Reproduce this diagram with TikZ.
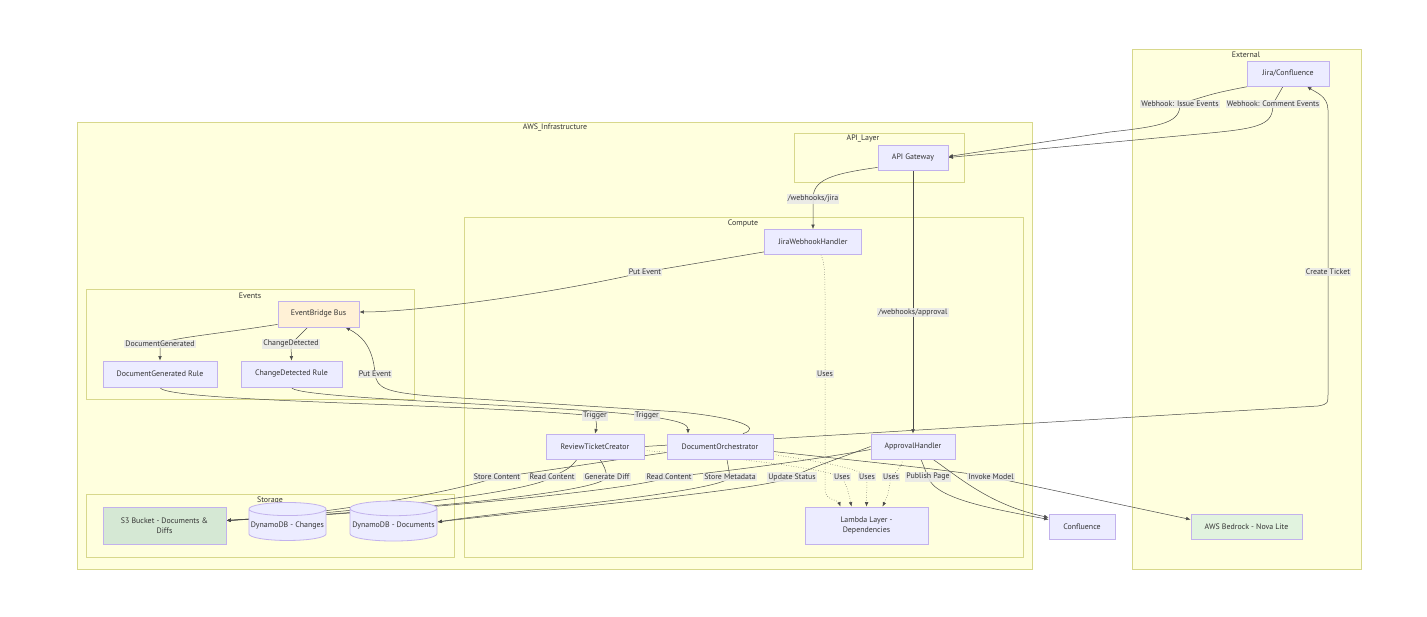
\documentclass[tikz,border=0pt]{standalone}
\usepackage{fontspec}
\setmainfont{PT Sans}
\usetikzlibrary{arrows.meta,calc,positioning,shapes.geometric}
\definecolor{ClusterFill}{HTML}{FFFFDE}
\definecolor{ClusterLine}{HTML}{D8D88C}
\definecolor{NodeFill}{HTML}{ECECFF}
\definecolor{NodeLine}{HTML}{C2B2EC}
\definecolor{BusFill}{HTML}{FFF1D6}
\definecolor{StoreFill}{HTML}{D5E8D4}
\definecolor{ModelFill}{HTML}{E1F3DF}
\definecolor{EdgeGray}{HTML}{4A4A4A}
\definecolor{LabelBg}{HTML}{E8E8E8}
\definecolor{TextGray}{HTML}{333333}
\pgfdeclarelayer{bg}
\pgfdeclarelayer{edges}
\pgfsetlayers{bg,edges,main}
\newcommand{\diagfont}{\fontsize{7.9}{9.8}\selectfont}
\tikzset{
  svc/.style={draw=NodeLine,fill=NodeFill,line width=0.8pt,minimum height=25pt,
    text=TextGray,font=\diagfont,inner sep=2pt},
  db/.style={svc,cylinder,shape border rotate=90,aspect=0.17},
  grp/.style={draw=ClusterLine,fill=ClusterFill,line width=0.8pt},
  grptitle/.style={text=TextGray,font=\diagfont,inner sep=1pt},
  flow/.style={draw=EdgeGray,line width=0.5pt,-{Latex[length=4.5pt,width=3.6pt]}},
  uses/.style={flow,dotted},
  tag/.style={fill=LabelBg,fill opacity=0.85,text opacity=1,text=TextGray,font=\diagfont,inner sep=1.2pt}
}
\begin{document}
\begin{tikzpicture}[x=1pt,y=-1pt]
  \useasboundingbox (0,0) rectangle (1427,617);

  % nodes
  \node[svc,minimum width=82pt] (jira) at (1288,73.5) {Jira/Confluence};
  \node[svc,minimum width=70pt] (apigw) at (913,157.5) {API Gateway};
  \node[svc,minimum width=97pt] (jwh) at (813,242) {JiraWebhookHandler};
  \node[svc,fill=BusFill,minimum width=81pt,minimum height=26pt] (eb) at (318.5,314) {EventBridge Bus};
  \node[svc,minimum width=114pt,minimum height=26pt] (dgr) at (160,374) {DocumentGenerated Rule};
  \node[svc,minimum width=101pt,minimum height=26pt] (cdr) at (291.5,374) {ChangeDetected Rule};
  \node[svc,minimum width=98pt] (rtc) at (595,446.5) {ReviewTicketCreator};
  \node[svc,minimum width=106pt] (docorch) at (720,446.5) {DocumentOrchestrator};
  \node[svc,minimum width=84pt] (approval) at (913,446.5) {ApprovalHandler};
  \node[svc,minimum width=123pt,minimum height=37pt,align=center] (layer) at (866.5,525.5) {Lambda Layer -\\Dependencies};
  \node[svc,fill=StoreFill,minimum width=123pt,minimum height=37pt,align=center] (s3) at (164.5,525.5) {S3 Bucket - Documents \&\\Diffs};
  \node[db,minimum width=77pt,minimum height=38pt] (dbchg) at (287.5,526) {\raisebox{-3pt}{DynamoDB - Changes}};
  \node[db,minimum width=87pt,minimum height=40pt] (dbdoc) at (393.5,526) {\raisebox{-3pt}{DynamoDB - Documents}};
  \node[svc,minimum width=66pt] (confl) at (1082,526.5) {Confluence};
  \node[svc,fill=ModelFill,minimum width=111pt] (bedrock) at (1246.5,526.5) {AWS Bedrock - Nova Lite};

  % groups
  \begin{pgfonlayer}{bg}
    \fill[white] (0,0) rectangle (1427,617);
    \draw[grp] (1132,49) rectangle (1361,569);
    \node[grptitle] (tExternal) at (1246,54.5) {External};
    \draw[grp] (77,122) rectangle (1032,569);
    \node[grptitle] (tAws) at (555,127.5) {AWS\_Infrastructure};
    \draw[grp] (794,133) rectangle (964,182);
    \node[grptitle] (tApi) at (863,138.5) {API\_Layer};
    \draw[grp] (464,217) rectangle (1023,557);
    \node[grptitle] (tCompute) at (743,223.5) {Compute};
    \draw[grp] (86,289) rectangle (414,399);
    \node[grptitle] (tEvents) at (250,295.5) {Events};
    \draw[grp] (86,494) rectangle (454,557);
    \node[grptitle] (tStorage) at (270,500.5) {Storage};
  \end{pgfonlayer}

  % edges
  \begin{pgfonlayer}{edges}
    \draw[flow] ([xshift=2pt]jira.south west) .. controls (1215,93) .. (1180,104) node[tag] (lIssue) {Webhook: Issue Events}
      .. controls (1180,122) and (1165,126) .. (1110,132) -- ([yshift=1pt]apigw.east);
    \draw[flow] ([xshift=-5pt]jira.south) .. controls (1278,95) .. (1273,104) node[tag] (lComment) {Webhook: Comment Events}
      .. controls (1273,124) and (1262,128) .. (1210,133) -- ([yshift=0pt]apigw.east);
    \draw[flow] ([yshift=3pt]apigw.south west) .. controls (830,174) and (813,180) .. (813,199) node[tag] (lJira) {/webhooks/jira} -- (jwh.north);
    \draw[flow] (apigw.south) -- node[tag,pos=0.54] (lAppr) {/webhooks/approval} (approval.north);
    \draw[flow] ([yshift=3pt]jwh.south west) .. controls (705,262) .. (645,272) node[tag] (lPut1) {Put Event}
      .. controls (560,292) and (420,312) .. ([yshift=2pt]eb.east);
    \draw[uses] ([xshift=8pt]jwh.south) .. controls (825,262) and (825,280) .. (825,300) -- (825,374) node[tag] (lUse1) {Uses}
      -- (825,490) .. controls (825,500) and (838,500) .. ([xshift=-26pt]layer.north);
    \draw[flow] ([yshift=3pt]eb.south west) .. controls (210,335) and (170,338) .. (160,344) node[tag] (lDocGen) {DocumentGenerated} -- (dgr.north);
    \draw[flow] ([xshift=-11pt]eb.south) .. controls (300,335) .. (291,344) node[tag] (lChg) {ChangeDetected} -- (cdr.north);
    \draw[flow] (dgr.south) .. controls (162,402) and (480,404) .. (595,416) node[tag] (lTrig1) {Trigger}
      .. controls (597,426) .. (rtc.north);
    \draw[flow] (cdr.south) .. controls (293,399) and (560,405) .. (647,416) node[tag] (lTrig2) {Trigger}
      .. controls (680,421) and (688,424) .. ([xshift=-32pt]docorch.north);
    \draw[flow] ([xshift=23pt]docorch.north) .. controls (762,428) and (740,418) .. (680,412) -- (430,396)
      .. controls (385,392) and (377,388) .. (375,374) node[tag] (lPut2) {Put Event}
      .. controls (373,345) and (360,335) .. ([xshift=27pt]eb.south);
    \draw[flow] (rtc.east) -- (1318,406) .. controls (1328,404) .. (1328,392) -- (1328,272) node[tag] (lTicket) {Create Ticket}
      -- (1328,110) .. controls (1328,96) and (1315,92) .. ([xshift=19pt]jira.south);
    \draw[flow] ([yshift=-6pt]docorch.west) .. controls (600,462) and (540,472) .. (497,477) node[tag] (lStore) {Store Content}
      .. controls (455,492) and (330,514) .. ([yshift=5pt]s3.east);
    \draw[flow] ([xshift=-18pt]rtc.south) .. controls (570,468) .. (552,477) node[tag] (lRead1) {Read Content}
      .. controls (530,494) and (330,514) .. ([yshift=5pt]s3.east);
    \draw[flow] ([xshift=5pt]rtc.south) .. controls (605,468) .. (607,477) node[tag] (lDiff) {Generate Diff}
      .. controls (600,496) and (330,515) .. ([yshift=5pt]s3.east);
    \draw[flow] ([yshift=-3pt]approval.west) .. controls (800,462) and (720,472) .. (669,477) node[tag] (lRead2) {Read Content}
      .. controls (620,494) and (330,516) .. ([yshift=5pt]s3.east);
    \draw[flow] ([xshift=7pt]docorch.south) .. controls (729,468) .. (730,477) node[tag] (lMeta) {Store Metadata}
      .. controls (725,492) and (500,512) .. ([yshift=4pt]dbdoc.east);
    \draw[flow] ([yshift=0pt]approval.west) .. controls (840,458) and (810,468) .. (792,477) node[tag] (lStatus) {Update Status}
      .. controls (770,490) and (520,512) .. ([yshift=4pt]dbdoc.east);
    \draw[uses] ([yshift=-4pt]rtc.east) .. controls (740,458) and (820,468) .. (842,477) node[tag] (lUse2) {Uses}
      .. controls (848,490) .. ([xshift=-15pt]layer.north);
    \draw[uses] ([yshift=-8pt]docorch.east) .. controls (820,462) and (860,468) .. (867,477) node[tag] (lUse3) {Uses} -- (layer.north);
    \draw[uses] ([xshift=-10pt]approval.south) .. controls (900,468) .. (891,477) node[tag] (lUse4) {Uses}
      .. controls (888,495) .. ([xshift=16pt]layer.north);
    \draw[flow] ([xshift=8pt]approval.south) .. controls (925,468) .. (928,477) node[tag] (lPublish) {Publish Page}
      .. controls (935,500) and (1000,510) .. ([yshift=7pt]confl.west);
    \draw[flow] ([xshift=20pt]approval.south) .. controls (960,478) and (990,505) .. ([yshift=9pt]confl.west);
    \draw[flow] ([yshift=-5pt]docorch.east) .. controls (850,460) and (950,470) .. (991,477) node[tag] (lInvoke) {Invoke Model}
      -- ([yshift=7pt]bedrock.west);
  \end{pgfonlayer}
\end{tikzpicture}
\end{document}
